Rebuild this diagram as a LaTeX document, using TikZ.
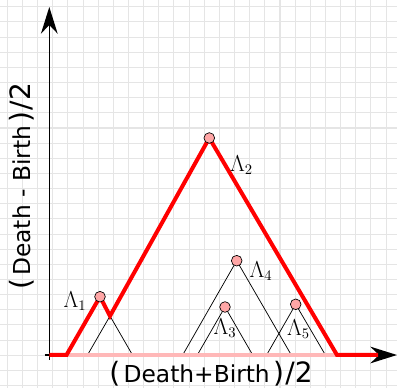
\documentclass[tikz,border=0pt]{standalone}
\usepackage{amsmath}
\usepackage{amssymb}
\usepackage{fontspec}
\setsansfont{DejaVu Sans}
\usetikzlibrary{arrows.meta}
\newcommand{\openp}{{\fontsize{21}{21}\selectfont(}\kern2.5pt}
\newcommand{\closep}{\kern2.5pt{\fontsize{21}{21}\selectfont)\kern1pt/2}}

\begin{document}
\begin{tikzpicture}[x=0.75pt,y=-0.75pt,
    gridline/.style={draw=black!10,line width=0.8pt},
    axisline/.style={-{Stealth[length=20pt,width=12.5pt]},black,line width=1.1pt},
    treeline/.style={black,line width=0.55pt},
    ridge/.style={red,line width=3pt,line join=miter},
    floorline/.style={red!28,line width=3pt},
    peak/.style={circle,draw=black,fill=red!35,inner sep=0pt,minimum size=8pt,line width=0.5pt},
    peaklabel/.style={font=\fontsize{16}{18}\selectfont},
    axislabel/.style={font=\sffamily\fontsize{17.5}{20}\selectfont}]
    \useasboundingbox (0,0) rectangle (397,388);

    % grid
    \foreach \i in {0,...,25} {
      \draw[gridline] (7.3+15.15*\i,0) -- (7.3+15.15*\i,388);
      \draw[gridline] (0,6.8+15.15*\i) -- (397,6.8+15.15*\i);
    }

    % points
    \coordinate (o) at (49.3,355);
    \coordinate (xstart) at (44.7,355);
    \coordinate (xend) at (397,355);
    \coordinate (ystart) at (49.3,360);
    \coordinate (yend) at (49.3,7);
    \coordinate (p1) at (100,296.7);
    \coordinate (p2) at (209.3,138);
    \coordinate (p3) at (225,307);
    \coordinate (p4) at (236.7,260.7);
    \coordinate (p5) at (295.7,304.3);
    \coordinate (kink) at (110,316);
    \coordinate (rleft) at (66.5,355);
    \coordinate (rright) at (337,355);
    \coordinate (rend) at (378,355);

    % axes
    \draw[axisline] (xstart) -- (xend);
    \draw[axisline] (ystart) -- (yend);

    % trees
    \draw[treeline] (87.5,355) -- (kink) -- (132.5,355);
    \draw[treeline] (182.7,355) -- (p4) -- (291.3,355);
    \draw[treeline] (197.3,355) -- (p3) -- (252.7,355);
    \draw[treeline] (266.6,355) -- (p5) -- (325.4,355);

    % envelope
    \draw[floorline] (rleft) -- (rright);
    \draw[ridge] (o) -- (rleft) -- (p1) -- (kink) -- (p2) -- (rright) -- (rend);

    \node[peak] (L1) at (p1) {};
    \node[peak] (L2) at (p2) {};
    \node[peak] (L3) at (p3) {};
    \node[peak] (L4) at (p4) {};
    \node[peak] (L5) at (p5) {};

    \node[peaklabel] (n1) at (75,301) {$\Lambda_1$};
    \node[peaklabel] (n2) at (241.5,165) {$\Lambda_2$};
    \node[peaklabel] (n3) at (225,328) {$\Lambda_3$};
    \node[peaklabel] (n4) at (261,271) {$\Lambda_4$};
    \node[peaklabel] (n5) at (298.5,329) {$\Lambda_5$};

    \node[axislabel] (xlab) at (211,374) {\openp Death+Birth\closep};
    \node[axislabel,rotate=90] (ylab) at (22,186.5) {\openp Death - Birth\closep};
  \end{tikzpicture}
\end{document}
